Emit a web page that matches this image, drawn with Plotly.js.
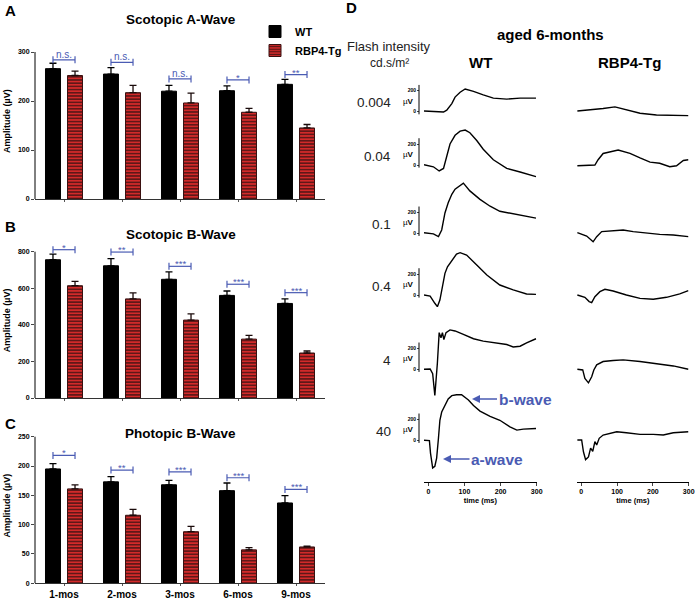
<!DOCTYPE html>
<html>
<head>
<meta charset="utf-8">
<script src="https://cdn.plot.ly/plotly-3.0.1.min.js"></script>
<style>
html, body { margin: 0; padding: 0; background: #fff; }
#erg { width: 696px; height: 599px; }
</style>
</head>
<body>
<div id="erg"></div>
<script>
var W = 696, H = 599;
var FONT = 'Liberation Sans, Arial, sans-serif';
var BLUE = '#4a5bb3';

// paper helpers (pixel -> paper fraction)
function fx(px) { return px / W; }
function fy(py) { return 1 - py / H; }

// ---- bar chart data ----
var months = ['1-mos', '2-mos', '3-mos', '6-mos', '9-mos'];
var zeros = [0, 0, 0, 0, 0];

var aWt = [266, 255, 220, 221, 234];
var aWtErr = [11, 13, 12, 10, 10];
var aTg = [252, 217, 196, 177, 145];
var aTgErr = [9, 15, 20, 8, 7];
var aSigY = [284, 279, 245, 243, 254];
var aSig = ['n.s.', 'n.s.', 'n.s.', '*', '**'];

var bWt = [756, 723, 649, 561, 517];
var bWtErr = [31, 39, 41, 24, 25];
var bTg = [614, 542, 426, 322, 246];
var bTgErr = [24, 33, 34, 20, 11];
var bSigY = [811, 798, 720, 622, 576];
var bSig = ['*', '**', '***', '***', '***'];

var cWt = [195, 173, 168, 158, 137];
var cWtErr = [9, 9, 7.5, 13, 12.5];
var cTg = [161, 116, 88, 57, 62];
var cTgErr = [7, 10, 9, 4, 1.5];
var cSigY = [218, 193, 190, 180, 160];
var cSig = ['*', '**', '***', '***', '***'];

// ---- ERG traces [ms, uV], aged 6 months ----
var flashLabels = ['0.004', '0.04', '0.1', '0.4', '4', '40'];
var wt0004 = [[-12,6],[0,3],[23,-3],[42,-3],[51,15],[65,77],[74,139],[88,185],[102,216],[125,194],[152,160],[180,129],[217,120],[254,129],[298,129]];
var tg0004 = [[-11,6],[24,15],[61,31],[94,46],[126,15],[164,-15],[210,-31],[257,-37],[299,-37]];
var wt004 = [[-12,3],[14,-17],[30,-57],[42,-33],[51,83],[60,200],[74,283],[88,323],[102,333],[115,307],[134,233],[152,150],[180,50],[217,-33],[254,-67],[298,-110]];
var tg004 = [[-11,-7],[38,0],[47,50],[61,110],[103,143],[136,110],[164,67],[192,27],[219,17],[247,-17],[266,-7],[285,43],[299,50]];
var wt01 = [[-12,6],[14,-6],[28,-32],[37,32],[46,194],[55,290],[65,371],[74,420],[97,478],[115,404],[143,323],[171,258],[198,210],[235,187],[272,168],[298,145]];
var tg01 = [[-11,6],[15,-26],[33,-81],[43,-32],[57,16],[89,26],[117,32],[145,16],[182,0],[219,-10],[257,-16],[299,-32]];
var wt04 = [[-12,0],[5,-10],[18,-79],[25,-111],[32,-48],[40,79],[46,206],[53,269],[65,333],[78,390],[88,403],[106,380],[134,285],[162,190],[198,95],[235,48],[272,10],[298,6]];
var tg04 = [[-11,0],[10,-22],[22,-63],[29,-73],[38,-16],[52,32],[66,54],[89,38],[126,0],[164,-32],[201,-41],[238,-22],[275,10],[299,41]];
var wt4 = [[-12,0],[5,3],[12,-42],[18,-250],[25,58],[30,349],[35,300],[39,349],[43,284],[49,349],[60,375],[74,365],[97,333],[125,291],[152,268],[189,252],[217,236],[235,213],[254,220],[272,252],[298,291]];
var tg4 = [[-11,0],[4,-6],[10,-87],[20,-129],[29,-71],[35,-6],[43,42],[61,74],[89,84],[117,90],[164,74],[210,52],[257,32],[299,0]];
var wt40 = [[-12,0],[3,-3],[6,-122],[12,-263],[18,-247],[23,-169],[28,19],[32,191],[37,269],[42,300],[49,353],[55,394],[65,425],[78,434],[92,434],[111,384],[125,331],[143,278],[171,228],[198,191],[226,128],[245,97],[263,106],[298,113]];
var tg40 = [[-11,3],[1,3],[6,-109],[12,-184],[20,-159],[26,-75],[32,-106],[38,-13],[43,-44],[50,19],[61,50],[80,66],[99,81],[126,72],[164,56],[201,56],[229,50],[257,72],[299,81]];
var wtTraces = [wt0004, wt004, wt01, wt04, wt4, wt40];
var tgTraces = [tg0004, tg004, tg01, tg04, tg4, tg40];

var data = [];
var annotations = [];
var shapes = [];
var layout = {
  width: W, height: H,
  margin: {l: 0, r: 0, t: 0, b: 0},
  paper_bgcolor: '#fff',
  plot_bgcolor: 'rgba(0,0,0,0)',
  font: {family: FONT, color: '#000'},
  barmode: 'group',
  bargap: 0.24,
  bargroupgap: 0.32,
  showlegend: true,
  legend: {
    x: fx(255), y: fy(17), xanchor: 'left', yanchor: 'top',
    bgcolor: 'rgba(0,0,0,0)', font: {size: 11, family: FONT, weight: 'bold'},
    itemwidth: 30, tracegroupgap: 0
  }
};

var idx = months.map(function (m, i) { return i; });

function addBarPanel(n, top, bottom, wt, wtErr, tg, tgErr, sigY, sig, yMax, dtick, title, titleY, letter, letterY, showCats) {
  var xa = n === 1 ? 'x' : 'x' + n;
  var ya = n === 1 ? 'y' : 'y' + n;
  // headroom above the axis top so brackets are not clipped
  var pad = 0.06 * yMax;
  var topPx = top - pad * (bottom - top) / yMax;
  data.push({
    type: 'bar', x: idx, y: wt, xaxis: xa, yaxis: ya,
    name: 'WT', showlegend: n === 1, legendgroup: 'wt',
    marker: {color: '#000', line: {color: '#000', width: 1}},
    error_y: {type: 'data', symmetric: false, array: wtErr, arrayminus: zeros, color: '#000', thickness: 1.3, width: 3.5},
    hoverinfo: 'skip'
  });
  data.push({
    type: 'bar', x: idx, y: tg, xaxis: xa, yaxis: ya,
    name: 'RBP4-Tg', showlegend: n === 1, legendgroup: 'tg',
    marker: {
      color: '#d32a2a', line: {color: '#3a1010', width: 1},
      pattern: {shape: '-', fgcolor: '#4a1414', bgcolor: '#d32a2a', size: 3.2, solidity: 0.42}
    },
    error_y: {type: 'data', symmetric: false, array: tgErr, arrayminus: zeros, color: '#1a0a0a', thickness: 1.3, width: 3.5},
    hoverinfo: 'skip'
  });
  // significance brackets
  idx.forEach(function (i) {
    data.push({
      type: 'scatter', mode: 'lines+markers', x: [i - 0.19, i + 0.19], y: [sigY[i], sigY[i]],
      xaxis: xa, yaxis: ya, showlegend: false, hoverinfo: 'skip',
      line: {color: BLUE, width: 1.2},
      marker: {symbol: 'line-ns-open', size: 5, line: {color: BLUE, width: 1.2}}
    });
    var isNs = sig[i] === 'n.s.';
    annotations.push({
      xref: xa, yref: ya, x: i, y: sigY[i], text: sig[i], showarrow: false,
      yanchor: 'bottom', yshift: isNs ? -2 : -5,
      font: {size: isNs ? 10 : 9.5, color: BLUE, family: FONT}
    });
  });

  layout[n === 1 ? 'xaxis' : 'xaxis' + n] = {
    domain: [fx(35), fx(325)], anchor: ya, range: [-0.5, 4.5],
    showline: true, linecolor: '#333', linewidth: 1, showgrid: false, zeroline: false,
    ticks: 'outside', ticklen: 2, tickcolor: '#555', tickvals: idx, ticktext: months,
    showticklabels: showCats, tickfont: {size: 10, family: FONT, weight: 'bold'}
  };
  var tv = [];
  for (var v = 0; v <= yMax; v += dtick) tv.push(v);
  layout[n === 1 ? 'yaxis' : 'yaxis' + n] = {
    domain: [fy(bottom), fy(topPx)], anchor: xa, range: [0, yMax + pad],
    showline: false, showgrid: false, zeroline: false,
    ticks: 'outside', ticklen: 3, tickvals: tv,
    tickfont: {size: 7, family: FONT, weight: 'bold'},
    title: {text: 'Amplitude (µV)', standoff: 5, font: {size: 9, family: FONT, weight: 'bold'}}
  };
  // y axis line only from 0 to the top tick
  shapes.push({
    type: 'line', xref: 'paper', yref: ya, x0: fx(35), x1: fx(35), y0: 0, y1: yMax,
    line: {color: '#000', width: 1}
  });
  annotations.push({
    xref: 'paper', yref: 'paper', x: fx(181), y: fy(titleY), text: '<b>' + title + '</b>',
    showarrow: false, xanchor: 'center', yanchor: 'middle', font: {size: 13.5, family: FONT}
  });
  annotations.push({
    xref: 'paper', yref: 'paper', x: fx(3), y: fy(letterY), text: '<b>' + letter + '</b>',
    showarrow: false, xanchor: 'left', yanchor: 'middle', font: {size: 15, family: FONT}
  });
}

addBarPanel(1, 52, 199, aWt, aWtErr, aTg, aTgErr, aSigY, aSig, 300, 100, 'Scotopic A-Wave', 20, 'A', 10, false);
addBarPanel(2, 251.7, 398, bWt, bWtErr, bTg, bTgErr, bSigY, bSig, 800, 200, 'Scotopic B-Wave', 234, 'B', 226, false);
addBarPanel(3, 436.7, 583.3, cWt, cWtErr, cTg, cTgErr, cSigY, cSig, 250, 50, 'Photopic B-Wave', 433, 'C', 424, true);

// ---- panel D: ERG traces ----
var K = 21 / 200; // px per uV
var rowZero = [111.7, 165, 233.3, 295, 369.3, 440.3];
var colDomain = [[424, 536.7], [577, 688.7]];
var timeAxisY = 481.7;

rowZero.forEach(function (zero, i) {
  var top = zero - 62;
  var bottom = i === 5 ? timeAxisY : zero + 42;
  var yRange = [-(bottom - zero) / K, (zero - top) / K];
  [wtTraces[i], tgTraces[i]].forEach(function (trace, c) {
    var n = 4 + i * 2 + c;
    data.push({
      type: 'scatter', mode: 'lines', xaxis: 'x' + n, yaxis: 'y' + n,
      x: trace.map(function (p) { return p[0]; }),
      y: trace.map(function (p) { return p[1]; }),
      line: {color: '#000', width: 1.4}, showlegend: false, hoverinfo: 'skip'
    });
    var last = i === 5;
    layout['xaxis' + n] = {
      domain: [fx(colDomain[c][0]), fx(colDomain[c][1])], anchor: 'y' + n, range: [-12, 300],
      visible: last, showline: last, linecolor: '#000', linewidth: 1, showgrid: false, zeroline: false,
      ticks: 'outside', ticklen: 3, tickvals: [0, 100, 200, 300],
      tickfont: {size: 7, family: FONT, weight: 'bold'},
      title: {text: 'time (ms)', standoff: 3, font: {size: 7.5, family: FONT, weight: 'bold'}}
    };
    layout['yaxis' + n] = {
      domain: [fy(bottom), fy(top)], range: yRange,
      anchor: 'free', position: fx(419),
      visible: c === 0, showline: false, showgrid: false, zeroline: false,
      ticks: 'outside', ticklen: 2, tickvals: [0, 200],
      tickfont: {size: 5, family: FONT, weight: 'bold'}
    };
    if (c === 0) {
      shapes.push({
        type: 'line', xref: 'paper', yref: 'y' + n, x0: fx(419), x1: fx(419), y0: -25, y1: 255,
        line: {color: '#000', width: 1}
      });
      annotations.push({
        xref: 'paper', yref: 'y' + n, x: fx(416), y: 100, text: 'µ<b>V</b>', showarrow: false,
        xanchor: 'right', yanchor: 'middle', font: {size: 8, family: FONT}
      });
    }
  });
  annotations.push({
    xref: 'paper', yref: 'paper', x: fx(393), y: fy(zero - 9), text: flashLabels[i], showarrow: false,
    xanchor: 'right', yanchor: 'middle', font: {size: 13.5, family: FONT, color: '#222'}
  });
});

annotations.push(
  {xref: 'paper', yref: 'paper', x: fx(344), y: fy(8), text: '<b>D</b>', showarrow: false,
    xanchor: 'left', yanchor: 'middle', font: {size: 15, family: FONT}},
  {xref: 'paper', yref: 'paper', x: fx(550), y: fy(35), text: '<b>aged 6-months</b>', showarrow: false,
    xanchor: 'center', yanchor: 'middle', font: {size: 15, family: FONT}},
  {xref: 'paper', yref: 'paper', x: fx(389), y: fy(46), text: 'Flash intensity', showarrow: false,
    xanchor: 'center', yanchor: 'middle', font: {size: 13, family: FONT, color: '#222'}},
  {xref: 'paper', yref: 'paper', x: fx(390), y: fy(63), text: 'cd.s/m²', showarrow: false,
    xanchor: 'center', yanchor: 'middle', font: {size: 12, family: FONT, color: '#222'}},
  {xref: 'paper', yref: 'paper', x: fx(480), y: fy(62), text: '<b>WT</b>', showarrow: false,
    xanchor: 'center', yanchor: 'middle', font: {size: 15, family: FONT}},
  {xref: 'paper', yref: 'paper', x: fx(629), y: fy(62), text: '<b>RBP4-Tg</b>', showarrow: false,
    xanchor: 'center', yanchor: 'middle', font: {size: 15, family: FONT}},
  {xref: 'paper', yref: 'paper', x: fx(472), y: fy(399), ax: 53, ay: 0, text: '<b>b-wave</b>',
    showarrow: true, arrowhead: 2, arrowsize: 1, arrowwidth: 1.6, arrowcolor: BLUE,
    font: {size: 15.5, family: FONT, color: BLUE}},
  {xref: 'paper', yref: 'paper', x: fx(443), y: fy(459), ax: 54, ay: 0, text: '<b>a-wave</b>',
    showarrow: true, arrowhead: 2, arrowsize: 1, arrowwidth: 1.6, arrowcolor: BLUE,
    font: {size: 15.5, family: FONT, color: BLUE}}
);

layout.annotations = annotations;
layout.shapes = shapes;

Plotly.newPlot('erg', data, layout, {staticPlot: true, displayModeBar: false});
</script>
</body>
</html>
